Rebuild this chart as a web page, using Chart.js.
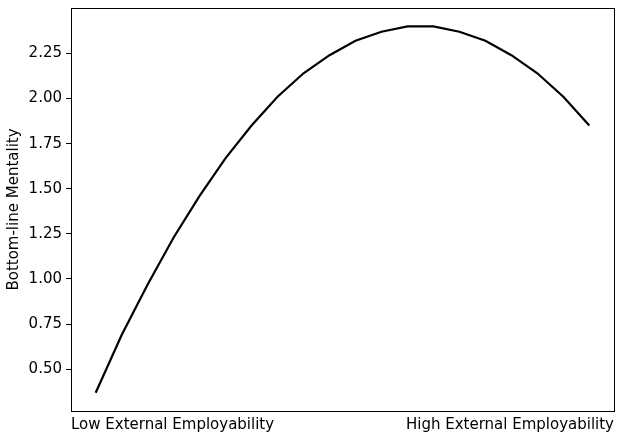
<!DOCTYPE html>
<html>
<head>
<meta charset="utf-8">
<script src="https://cdn.jsdelivr.net/npm/chart.js@4"></script>
<style>
  html, body { margin: 0; padding: 0; background: #fff; }
  #wrap { width: 624px; height: 438px; }
</style>
</head>
<body>
<div id="wrap"><canvas id="c" width="624" height="438"></canvas></div>
<script>
// Data
const xPositions = [0,1,2,3,4,5,6,7,8,9,10,11,12,13,14,15,16,17,18,19];
const mentality = [0.37,0.69,0.97,1.23,1.46,1.67,1.85,2.01,2.14,2.24,2.32,2.37,2.40,2.40,2.37,2.32,2.24,2.14,2.01,1.85];
const xTickLabels = ['Low External Employability', 'High External Employability'];
const yTicks = [0.50,0.75,1.00,1.25,1.50,1.75,2.00,2.25];
const yTitle = 'Bottom-line Mentality';

const FONT = 'DejaVu Sans';
Chart.defaults.font.family = FONT;
Chart.defaults.color = '#000';

const points = xPositions.map((x, i) => ({x: x, y: mentality[i]}));
const xMinD = Math.min(...xPositions), xMaxD = Math.max(...xPositions);
const yMinD = Math.min(...mentality), yMaxD = Math.max(...mentality);
const xm = (xMaxD - xMinD) * 0.05, ym = (yMaxD - yMinD) * 0.05;

const frame = {
  id: 'frame',
  afterDraw(chart) {
    const a = chart.chartArea, ctx = chart.ctx;
    ctx.save();
    ctx.strokeStyle = '#000';
    ctx.lineWidth = 1;
    ctx.strokeRect(Math.round(a.left) + 0.5, Math.round(a.top) + 0.5, Math.round(a.right - a.left), Math.round(a.bottom - a.top));
    ctx.restore();
  }
};

new Chart(document.getElementById('c'), {
  type: 'line',
  data: {
    datasets: [{
      data: points,
      borderColor: '#000',
      borderWidth: 2.2,
      pointRadius: 0,
      fill: false,
      tension: 0
    }]
  },
  options: {
    responsive: false,
    animation: false,
    devicePixelRatio: 1,
    layout: { padding: { top: 8, right: 10, left: 0, bottom: 0 } },
    plugins: { legend: { display: false }, tooltip: { enabled: false } },
    scales: {
      x: {
        type: 'linear',
        min: xMinD - xm,
        max: xMaxD + xm,
        grid: { display: false, drawTicks: false },
        border: { display: false },
        afterBuildTicks(scale) {
          scale.ticks = [{value: scale.min}, {value: scale.max}];
        },
        afterFit(scale) { scale.height = 27; scale.paddingLeft = 0; scale.paddingRight = 0; },
        ticks: {
          align: 'inner',
          maxRotation: 0,
          autoSkip: false,
          padding: 5,
          font: { size: 15, family: FONT },
          color: '#000',
          callback: (v, i) => xTickLabels[i]
        }
      },
      y: {
        type: 'linear',
        min: yMinD - ym,
        max: yMaxD + ym,
        afterBuildTicks(scale) {
          scale.ticks = yTicks.map(v => ({value: v}));
        },
        afterFit(scale) { scale.width = 71; scale.paddingTop = 0; scale.paddingBottom = 0; },
        grid: { display: true, drawOnChartArea: false, drawTicks: true, tickLength: 5, color: '#000' },
        border: { display: false },
        ticks: {
          padding: 4,
          font: { size: 15, family: FONT },
          color: '#000',
          callback: v => v.toFixed(2)
        },
        title: {
          display: true,
          text: yTitle,
          font: { size: 15, family: FONT },
          color: '#000',
          padding: { top: 5, bottom: 0 }
        }
      }
    }
  },
  plugins: [frame]
});
</script>
</body>
</html>
